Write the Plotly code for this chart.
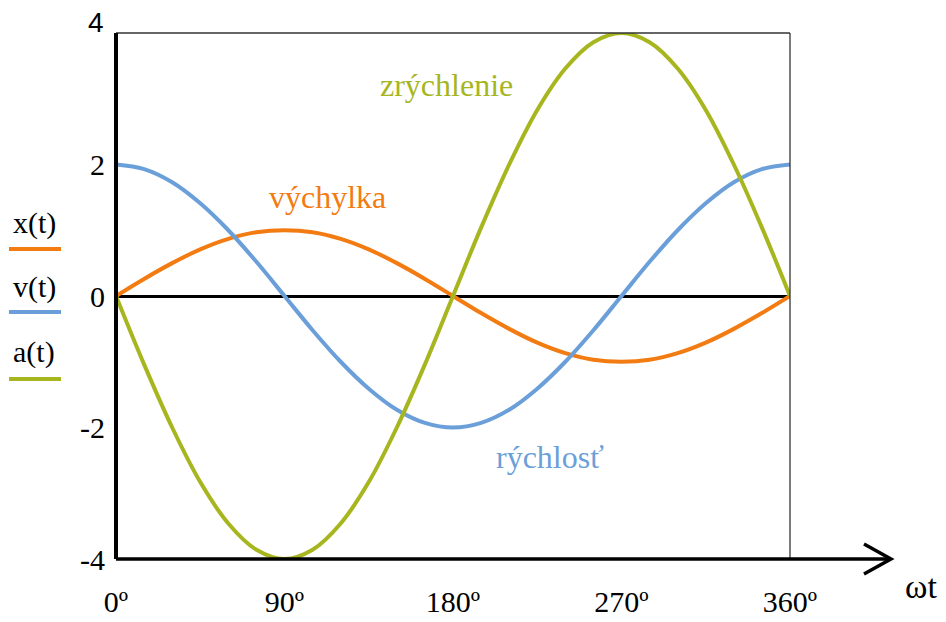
import plotly.graph_objects as go

# ---- data ----
angle_deg = [0, 15, 30, 45, 60, 75, 90, 105, 120, 135, 150, 165, 180,
             195, 210, 225, 240, 255, 270, 285, 300, 315, 330, 345, 360]
x_t = [0, 0.26, 0.5, 0.71, 0.87, 0.97, 1.0, 0.97, 0.87, 0.71, 0.5, 0.26, 0,
       -0.26, -0.5, -0.71, -0.87, -0.97, -1.0, -0.97, -0.87, -0.71, -0.5, -0.26, 0]
v_t = [2.0, 1.93, 1.73, 1.41, 1.0, 0.52, 0, -0.52, -1.0, -1.41, -1.73, -1.93, -2.0,
       -1.93, -1.73, -1.41, -1.0, -0.52, 0, 0.52, 1.0, 1.41, 1.73, 1.93, 2.0]
a_t = [0, -1.04, -2.0, -2.83, -3.46, -3.86, -4.0, -3.86, -3.46, -2.83, -2.0, -1.04, 0,
       1.04, 2.0, 2.83, 3.46, 3.86, 4.0, 3.86, 3.46, 2.83, 2.0, 1.04, 0]

x_tick_vals = [0, 90, 180, 270, 360]
x_tick_text = ["0º", "90º", "180º", "270º", "360º"]
y_tick_vals = [-4, -2, 0, 2]
y_tick_text = ["-4", "-2", "0", "2"]
top_tick_text = "4"

series_names = ["x(t)", "v(t)", "a(t)"]
curve_labels = ["výchylka", "rýchlosť", "zrýchlenie"]
axis_label = "ωt"

# ---- styling ----
ORANGE = "#F27B12"
BLUE = "#6B9FD9"
GREEN = "#A7B61F"
SERIF = "Liberation Serif"
SANS = "Liberation Sans"

W, H = 946, 622
L, R, T, B = 116, 790, 33, 559


def px(xp):
    return (xp - L) / (R - L)


def py(yp):
    return (B - yp) / (B - T)


fig = go.Figure()
for vals, col, name in [(x_t, ORANGE, series_names[0]),
                        (v_t, BLUE, series_names[1]),
                        (a_t, GREEN, series_names[2])]:
    fig.add_trace(go.Scatter(x=angle_deg, y=vals, mode="lines", name=name,
                             line=dict(color=col, width=4, shape="spline", smoothing=1.0),
                             showlegend=False, hoverinfo="skip"))

shapes = [
    dict(type="line", xref="paper", yref="paper", x0=0, x1=1, y0=1, y1=1,
         line=dict(color="#333333", width=1.3)),
    dict(type="line", xref="paper", yref="paper", x0=1, x1=1, y0=0, y1=1,
         line=dict(color="#333333", width=1.3)),
    dict(type="line", xref="paper", yref="paper", x0=0, x1=px(891), y0=0, y1=0,
         line=dict(color="black", width=3.5)),
    dict(type="path", xref="paper", yref="paper",
         path=f"M {px(864)} {py(544)} L {px(891)} {py(559)} L {px(864)} {py(574)}",
         line=dict(color="black", width=3.5)),
    dict(type="line", xref="paper", yref="paper", x0=0, x1=0, y0=0, y1=1,
         line=dict(color="black", width=4)),
]

for col, yl in [(ORANGE, 249), (BLUE, 312), (GREEN, 379)]:
    shapes.append(dict(type="line", xref="paper", yref="paper",
                       x0=px(9), x1=px(61), y0=py(yl), y1=py(yl),
                       line=dict(color=col, width=4)))

annotations = []
for name, yc in zip(series_names, [223, 287, 352]):
    annotations.append(dict(text=name, xref="paper", yref="paper", x=px(34), y=py(yc),
                            xanchor="center", yanchor="middle", showarrow=False,
                            font=dict(family=SERIF, size=30, color="black")))

annotations += [
    dict(text=curve_labels[0], xref="paper", yref="paper", x=px(327), y=py(197),
         xanchor="center", yanchor="middle", showarrow=False,
         font=dict(family=SERIF, size=32, color=ORANGE)),
    dict(text=curve_labels[1], xref="paper", yref="paper", x=px(550), y=py(457),
         xanchor="center", yanchor="middle", showarrow=False,
         font=dict(family=SERIF, size=32, color=BLUE)),
    dict(text=curve_labels[2], xref="paper", yref="paper", x=px(446), y=py(85),
         xanchor="center", yanchor="middle", showarrow=False,
         font=dict(family=SERIF, size=32, color=GREEN)),
    dict(text=axis_label, xref="paper", yref="paper", x=px(921), y=py(586),
         xanchor="center", yanchor="middle", showarrow=False,
         font=dict(family=SERIF, size=34, color="black")),
    dict(text=top_tick_text, xref="paper", yref="paper", x=px(106), y=py(22),
         xanchor="right", yanchor="middle", showarrow=False,
         font=dict(family=SANS, size=28, color="black")),
]

fig.update_layout(
    template="none",
    width=W, height=H,
    margin=dict(l=L, r=W - R, t=T, b=H - B, pad=0, autoexpand=False),
    paper_bgcolor="white", plot_bgcolor="white",
    shapes=shapes, annotations=annotations,
    xaxis=dict(range=[0, 360], showgrid=False, zeroline=False, showline=False,
               automargin=False,
               tickmode="array", tickvals=x_tick_vals, ticktext=x_tick_text,
               ticks="", ticklabelstandoff=22,
               tickfont=dict(family=SERIF, size=30, color="black")),
    yaxis=dict(range=[-4, 4], showgrid=False, zeroline=True, zerolinecolor="black",
               zerolinewidth=3, showline=False, automargin=False,
               tickmode="array", tickvals=y_tick_vals, ticktext=y_tick_text,
               ticks="", ticklabelstandoff=10,
               tickfont=dict(family=SERIF, size=30, color="black")),
)

fig.write_html("out.html", config={"displayModeBar": False},
               post_script="document.body.style.margin='0';document.body.style.overflow='hidden';")
